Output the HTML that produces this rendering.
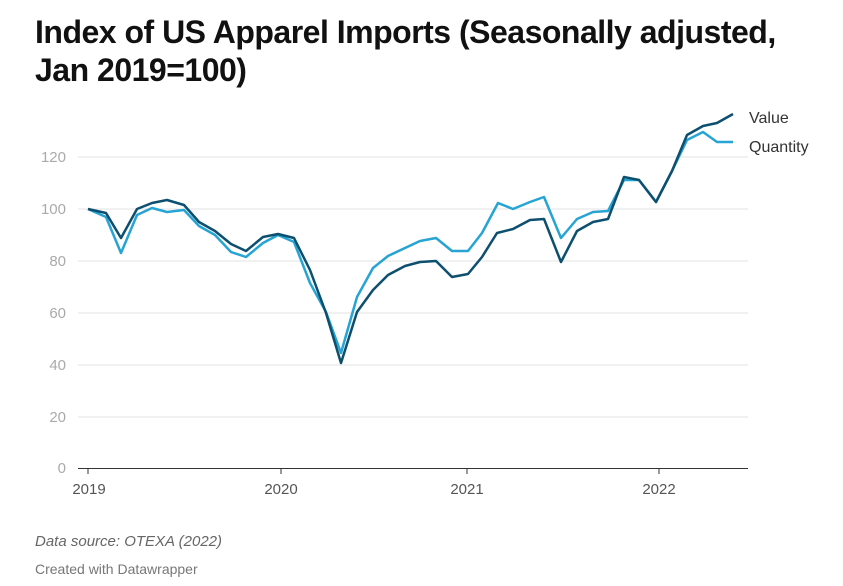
<!DOCTYPE html>
<html><head><meta charset="utf-8"><style>
body{margin:0;background:#fff;font-family:"Liberation Sans",sans-serif;}
.t{position:absolute;left:35px;top:13px;font-size:32px;font-weight:bold;color:#111;line-height:38px;letter-spacing:-0.5px;white-space:nowrap}
</style></head><body>
<div style="position:relative;width:843px;height:586px;overflow:hidden">
<div class="t">Index of US Apparel Imports (Seasonally adjusted,<br>Jan 2019=100)</div>
<svg width="843" height="586" style="position:absolute;left:0;top:0" font-family="Liberation Sans, sans-serif">
<g stroke="#e3e3e3" stroke-width="1">
<line x1="78" x2="748" y1="417" y2="417"/><line x1="78" x2="748" y1="365" y2="365"/>
<line x1="78" x2="748" y1="313" y2="313"/><line x1="78" x2="748" y1="261" y2="261"/>
<line x1="78" x2="748" y1="209" y2="209"/><line x1="78" x2="748" y1="157" y2="157"/>
</g>
<line x1="78" x2="748" y1="468.5" y2="468.5" stroke="#333" stroke-width="1"/>
<g fill="#aaa" font-size="15" text-anchor="end">
<text x="66" y="473">0</text><text x="66" y="422">20</text><text x="66" y="370">40</text>
<text x="66" y="318">60</text><text x="66" y="266">80</text><text x="66" y="214">100</text><text x="66" y="162">120</text>
</g>
<g stroke="#333"><line x1="88" x2="88" y1="468" y2="474"/><line x1="281" x2="281" y1="468" y2="474"/><line x1="467" x2="467" y1="468" y2="474"/><line x1="659" x2="659" y1="468" y2="474"/></g>
<g fill="#555" font-size="15" text-anchor="middle">
<text x="89" y="494">2019</text><text x="281" y="494">2020</text><text x="467" y="494">2021</text><text x="659" y="494">2022</text>
</g>
<polyline fill="none" stroke="#26a4d3" stroke-width="2.5" stroke-linejoin="round" points="88,209 106,217 121,253 137,215 152,208 167,212 184,210 199,226 215,235 231,252 246,257 263,243 278,235 294,242 310,283 326,312 341,353 357,297 373,268 388,256 405,248 420,241 436,238 452,251 468,251 482,233 498,203 513,209 530,202 544,197 561,238 577,219 593,212 608,211 624,180 639,180 656,202 672,171 687,140 703,132 717,142 733,142"/>
<polyline fill="none" stroke="#0d4f6e" stroke-width="2.5" stroke-linejoin="round" points="88,209 106,213 121,238 137,209 152,203 167,200 184,205 199,222 215,231 231,244 246,251 263,237 278,234 294,238 310,270 326,313 341,363 357,312 373,290 388,275 405,266 420,262 436,261 452,277 468,274 482,257 497,233 513,229 530,220 544,219 561,262 577,231 593,222 608,219 624,177 639,180 656,202 672,171 687,135 703,126 717,123 733,114"/>
<text x="749" y="123" font-size="16" fill="#333">Value</text>
<text x="749" y="152" font-size="16" fill="#333">Quantity</text>
<text x="35" y="546" font-size="15" font-style="italic" fill="#666">Data source: OTEXA (2022)</text>
<text x="35" y="574" font-size="14" fill="#777">Created with Datawrapper</text>
</svg>
</div>
</body></html>
